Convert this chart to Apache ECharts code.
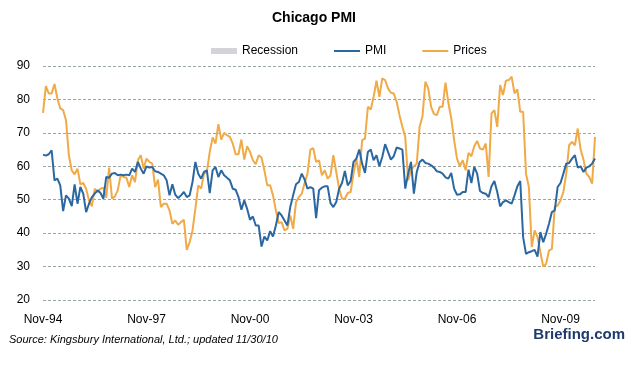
<!DOCTYPE html>
<html>
<head>
<meta charset="utf-8">
<script src="https://cdn.jsdelivr.net/npm/echarts@6/dist/echarts.min.js"></script>
<style>
html,body{margin:0;padding:0;background:#fff;}
#chart{width:628px;height:369px;}
</style>
</head>
<body>
<div id="chart"></div>
<script>
// Monthly, Nov-94 .. Nov-10
const startYear = 1994, startMonth = 10; // November (0-based)
const tickLabels = ['Nov-94', 'Nov-97', 'Nov-00', 'Nov-03', 'Nov-06', 'Nov-09'];
const yTicks = [20, 30, 40, 50, 60, 70, 80, 90];

const pmi = [
  63.5, 63.2, 63.6, 64.8, 55.8, 56.3, 54.3, 46.6, 51.3, 50.3, 48.1, 54.6,
  48.8, 53.8, 51.8, 46.3, 48.8, 50.8, 51.8, 52.8, 52.0, 50.3, 56.8, 56.6,
  57.8, 58.0, 57.3, 57.5, 57.3, 57.5, 57.3, 59.3, 58.3, 61.3, 59.3, 57.8,
  60.0, 59.6, 59.8, 58.5, 58.3, 57.8, 57.3, 55.8, 51.3, 54.6, 51.5, 50.5,
  51.3, 52.3, 50.8, 51.3, 55.3, 61.3, 57.8, 56.3, 58.3, 58.8, 52.0, 58.8,
  59.8, 56.8, 58.8, 57.3, 56.6, 55.8, 53.3, 53.0, 50.8, 47.0, 49.8, 47.3,
  44.0, 45.0, 42.3, 42.3, 36.0, 39.0, 37.8, 40.6, 39.0, 42.3, 46.3, 45.3,
  43.8, 42.3, 47.8, 51.3, 54.6, 55.3, 57.8, 56.0, 53.3, 53.8, 53.3, 44.5,
  52.8, 53.6, 54.0, 54.0, 49.0, 47.8, 49.3, 53.3, 55.0, 58.6, 54.3, 55.6,
  61.3, 62.3, 65.0, 60.8, 58.0, 64.3, 65.0, 61.8, 63.3, 60.0, 62.8, 66.6,
  64.3, 62.0, 63.0, 65.6, 65.3, 65.0, 53.3, 57.8, 61.3, 51.8, 58.3, 61.3,
  62.0, 61.0, 60.8, 60.3, 59.6, 58.5, 58.3, 57.8, 56.7, 56.3, 58.0, 53.3,
  51.5, 51.6, 52.3, 52.3, 59.0, 55.0, 59.8, 57.8, 52.6, 52.0, 51.8, 50.8,
  54.0, 55.6, 52.3, 48.0, 49.3, 49.8, 49.3, 48.8, 51.3, 54.0, 55.6, 38.8,
  33.8, 34.3, 34.6, 35.0, 33.0, 40.3, 37.3, 39.8, 42.8, 46.3, 46.8, 53.8,
  55.0, 57.8, 60.8, 61.0, 62.3, 63.3, 59.6, 60.0, 58.3, 59.6, 60.0, 60.8,
  62.3
];

const prices = [
  76.0, 84.0, 81.8, 81.8, 84.6, 80.3, 77.3, 76.8, 73.8, 63.3, 58.8, 57.6,
  59.3, 54.6, 55.0, 53.3, 49.8, 48.0, 53.3, 52.3, 53.3, 53.6, 50.6, 59.6,
  50.3, 51.0, 52.8, 57.3, 56.8, 56.6, 53.8, 57.3, 55.3, 61.8, 63.3, 59.3,
  62.3, 61.3, 60.8, 53.8, 56.0, 47.8, 48.8, 48.8, 46.8, 42.8, 43.8, 42.5,
  43.3, 44.0, 35.0, 37.3, 40.8, 47.3, 54.3, 53.3, 57.8, 58.3, 64.3, 68.6,
  66.8, 72.6, 68.0, 70.0, 69.3, 68.8, 66.8, 63.6, 63.6, 68.0, 62.0, 66.0,
  64.3, 61.8, 60.6, 63.3, 62.6, 58.8, 54.3, 54.3, 51.3, 46.8, 43.0, 43.3,
  40.8, 41.3, 45.3, 41.3, 49.3, 50.8, 51.8, 55.0, 57.8, 65.0, 65.4, 61.3,
  61.8, 57.3, 58.8, 56.3, 57.3, 63.3, 58.3, 53.3, 50.3, 50.3, 52.0, 52.3,
  57.8, 62.3, 56.8, 67.8, 68.3, 77.8, 77.0, 80.8, 85.6, 80.8, 86.3, 85.8,
  83.3, 82.0, 81.8, 79.3, 75.3, 71.8, 68.8, 55.8, 58.8, 60.0, 60.8, 71.8,
  75.0, 85.3, 83.3, 77.8, 75.6, 75.3, 77.8, 77.8, 85.0, 79.0, 74.3, 67.8,
  62.3, 60.0, 61.8, 58.8, 64.0, 63.0, 66.0, 67.6, 65.3, 65.0, 66.8, 56.8,
  75.8, 76.8, 71.8, 84.3, 81.3, 85.6, 85.8, 86.8, 81.8, 83.0, 76.3, 76.3,
  57.8, 53.8, 35.8, 40.8, 38.8, 34.3, 30.0, 30.8, 34.8, 35.3, 47.8, 48.3,
  49.8, 52.3, 57.8, 66.3, 67.3, 66.3, 71.3, 65.0, 62.0, 57.8, 56.8, 54.8,
  68.8
];

const monthNames = ['Jan','Feb','Mar','Apr','May','Jun','Jul','Aug','Sep','Oct','Nov','Dec'];
const categories = pmi.map((_, i) => {
  const m = startMonth + i;
  const y = startYear + Math.floor(m / 12);
  return monthNames[m % 12] + '-' + String(y % 100).padStart(2, '0');
});

const chart = echarts.init(document.getElementById('chart'), null, {renderer: 'canvas'});
const font = 'Liberation Sans, Arial, sans-serif';
chart.setOption({
  animation: false,
  backgroundColor: '#ffffff',
  title: {
    text: 'Chicago PMI',
    left: 'center',
    top: 6,
    textStyle: {fontFamily: font, fontSize: 14, fontWeight: 'bold', color: '#000'}
  },
  legend: {
    top: 40,
    left: 206,
    itemWidth: 26,
    itemHeight: 6,
    itemGap: 36,
    textStyle: {fontFamily: font, fontSize: 12, color: '#000'},
    data: [
      {name: 'Recession', icon: 'rect'},
      {name: 'PMI', icon: 'path://M0,0L26,0L26,2L0,2Z'},
      {name: 'Prices', icon: 'path://M0,0L26,0L26,2L0,2Z'}
    ]
  },
  grid: {left: 43, right: 33, top: 66, bottom: 69, containLabel: false},
  xAxis: {
    type: 'category',
    data: categories,
    boundaryGap: false,
    axisLine: {show: false},
    axisTick: {show: false},
    axisLabel: {
      interval: (idx, val) => tickLabels.indexOf(val) >= 0,
      fontFamily: font, fontSize: 12, color: '#000', margin: 14
    },
    splitLine: {show: false}
  },
  yAxis: {
    type: 'value',
    min: yTicks[0],
    max: yTicks[yTicks.length - 1],
    interval: 10,
    axisLine: {show: false},
    axisTick: {show: false},
    axisLabel: {fontFamily: font, fontSize: 12, color: '#000', margin: 13},
    splitLine: {lineStyle: {color: '#9aa7a1', type: [3, 2], width: 1}}
  },
  series: [
    {name: 'Recession', type: 'bar', data: [], itemStyle: {color: '#d2d4da'}},
    {name: 'PMI', type: 'line', data: pmi, symbol: 'none', z: 3,
     lineStyle: {color: '#2b67a0', width: 2}, itemStyle: {color: '#2b67a0'}},
    {name: 'Prices', type: 'line', data: prices, symbol: 'none', z: 2,
     lineStyle: {color: '#f0aa47', width: 2}, itemStyle: {color: '#f0aa47'}}
  ],
  graphic: [
    {type: 'text', left: 9, top: 334,
     style: {text: 'Source: Kingsbury International, Ltd.; updated 11/30/10',
              font: 'italic 11px ' + font, fill: '#000'}},
    {type: 'text', right: 3, top: 327,
     style: {text: 'Briefing.com', font: 'bold 15px ' + font, fill: '#1f3b6e'}}
  ]
});
</script>
</body>
</html>
